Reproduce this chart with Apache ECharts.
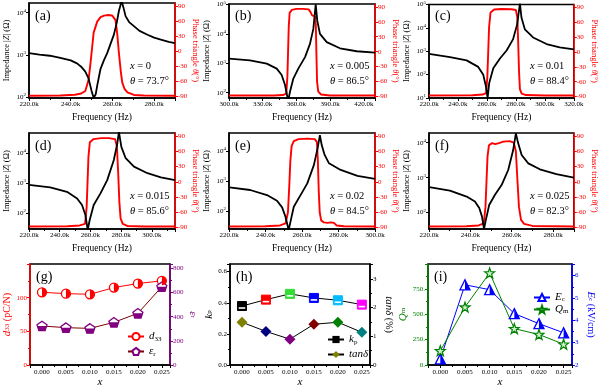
<!DOCTYPE html>
<html><head><meta charset="utf-8">
<script src="https://cdn.jsdelivr.net/npm/echarts@6/dist/echarts.min.js"></script>
<style>html,body{margin:0;padding:0;background:#fff}#c{width:600px;height:391px}</style>
</head><body><div id="c"></div>
<script>
const FONT = '"Liberation Serif", "Times New Roman", serif';

// ---------- impedance |Z| (ohm) vs frequency (kHz) ----------
const impA = [[220,1100],[225,1020],[230,955],[235,850],[240,740],[243,630],[245,525],[247,400],[248.5,280],[250,140],[251,96],[252,117],[252.7,186],[254.3,468],[256,760],[257.5,1100],[259,1780],[260.7,3020],[262,5600],[263.1,11000],[264.4,19000],[265.3,13200],[266.3,8300],[268,6000],[270.3,4800],[273,3700],[276.8,3000],[280,2570],[283.2,2290],[287,2040],[290,1900]];
const impB = [[300,1445],[318.7,1259],[333.6,977],[342.5,661],[346.9,398],[349.9,182],[351.9,74],[352.8,56],[354.3,107],[357.3,302],[361.7,661],[367.7,1622],[372.1,4571],[375.1,14791],[377.2,102000],[378.6,28184],[381,10000],[387,5248],[398.8,3236],[413.7,2570],[430,2291]];
const impC = [[220,776],[234.5,562],[246,407],[254,214],[257.5,98],[259.3,32],[260.5,10],[261.6,44],[264.4,186],[269,490],[273.6,1072],[278.1,3311],[280.9,14125],[282.8,112000],[283.9,26915],[286.2,8710],[291.9,3890],[301.2,2042],[310.3,1479],[320,1202]];
const impD = [[220,851],[233.8,708],[244.7,501],[251.3,302],[254.5,182],[256.7,85],[258.2,27],[259.5,58],[262.1,182],[266.5,447],[270.9,1230],[275.2,5754],[277.5,20893],[278.5,50000],[280.1,15849],[282.9,6607],[288.3,3467],[297.1,2089],[305.8,1514],[315,1230]];
const impE = [[220.2,617],[231.6,501],[240.8,339],[246.3,219],[249.1,132],[250.9,65],[252.7,23],[253.7,44],[255.5,138],[259.2,339],[262.9,832],[266.5,3388],[268.7,13804],[269.8,33884],[270.8,15849],[272.4,7413],[274.8,3890],[281.2,2344],[290.4,1479],[300,1175]];
const impF = [[220.1,537],[230.1,427],[238.2,288],[242.2,209],[244.3,135],[245.6,78],[246.6,34],[247.5,62],[249.1,166],[251.9,324],[255.1,617],[258.3,1660],[260.7,6166],[262,18621],[263.1,9772],[264.8,4467],[268,2570],[273.6,1738],[281.6,1259],[290,1000]];

// ---------- phase angle (deg) vs frequency (kHz) ----------
const phA = [[220,-88.5],[235,-88],[242,-86.5],[245,-84],[247,-79],[248.6,-56],[249.5,-23],[250.3,9],[251,37],[252.7,59],[254.3,68],[256,71],[257.5,72],[259.9,71],[261.5,62],[262.3,35],[263.1,-3],[264,-40],[264.7,-62],[265.8,-75],[267.2,-82],[270.3,-87],[275,-88],[290,-88.5]];
const phB = [[300,-88],[340,-88],[348,-87],[351,-84],[352,-50],[352.6,0],[353.2,50],[354,78],[356,84],[360,86],[366,86],[371,85],[372.5,80],[374,73],[376.5,71],[377.3,55],[377.8,0],[378.4,-60],[379.5,-80],[382,-86],[390,-88],[430,-88]];
const phC = [[220,-88],[250,-87.5],[257,-86],[259.5,-83],[260.3,-50],[260.9,0],[261.5,50],[262.5,80],[265,86],[270,87],[277,86.5],[280,85],[281,70],[281.6,20],[282.2,-40],[282.8,-75],[284,-84],[287,-87],[300,-88],[320,-88]];
const phD = [[220,-88],[245,-87.5],[253,-86],[256.5,-83],[257.5,-50],[258.1,0],[258.7,50],[259.6,78],[262,84],[267,86],[272,86],[276,84],[277.2,70],[278,20],[278.8,-40],[279.6,-72],[281,-83],[284,-87],[295,-88],[315,-88]];
const phE = [[220,-88],[240,-87.5],[248,-86],[251,-82],[252.3,-60],[253,-10],[253.6,40],[254.3,70],[255.5,80],[258,84],[263,85],[267,84],[268.2,78],[268.7,40],[269.2,-20],[269.7,-60],[270.5,-76],[272,-80],[274,-81],[275.8,-80],[276.6,-77],[277.5,-81],[279,-86],[283,-87.5],[300,-88]];
const phF = [[220,-88],[238,-87.5],[244,-86],[246.5,-82],[247.3,-50],[247.8,0],[248.3,50],[249,72],[250.5,76],[252,74],[252.8,72],[253.8,76],[256,79],[259,80],[261,77],[262,60],[262.8,0],[263.5,-50],[264.5,-75],[266,-83],[270,-87],[290,-88]];

// ---------- composition dependent properties ----------
const xComp = [0, 0.005, 0.010, 0.015, 0.020, 0.025];
const d33 = [108, 106, 105, 115, 121, 125];
const epsR = [323, 309, 303, 353, 428, 648];
const kp = [0.379, 0.420, 0.457, 0.431, 0.416, 0.388];
const tanD = [1.49, 1.17, 0.90, 1.42, 1.49, 1.14];
const Qm = [140, 570, 906, 358, 300, 205];
const Ec = [2.27, 5.59, 5.37, 4.30, 3.85, 3.44];

const panelLabels = ['(a)','(b)','(c)','(d)','(e)','(f)','(g)','(h)','(i)'];
const compText = ['0','0.005','0.01','0.015','0.02','0.025'];
const thetaText = ['73.7°','86.5°','88.4°','85.6°','84.5°','82.3°'];

// ---------- styles / layout ----------
const kpColors = ['#000000','#ff0000','#33dd33','#0000ff','#00bbff','#ff00ff'];
const tanColors = ['#808000','#000080','#800080','#800000','#008000','#008080'];
const topLayout = [[29,3,146,95],[229,3,146,95],[429,3,145,95],[29,133,146,96],[229,133,146,96],[429,133,145,96]];
const topAxes = [
  {fmin:220,fmax:290,fstep:20,zmin:95,zmax:17000,showZEnds:false,showFMax:false},
  {fmin:300,fmax:430,fstep:30,zmin:66,zmax:105000,showZEnds:false,showFMax:false},
  {fmin:220,fmax:320,fstep:20,zmin:10,zmax:100000,showZEnds:true,showFMax:true},
  {fmin:220,fmax:315,fstep:20,zmin:29,zmax:45700,showZEnds:false,showFMax:false},
  {fmin:220,fmax:300,fstep:20,zmin:25,zmax:40000,showZEnds:false,showFMax:true},
  {fmin:220,fmax:290,fstep:20,zmin:34,zmax:19000,showZEnds:false,showFMax:false}
];
const impData = [impA, impB, impC, impD, impE, impF];
const phData = [phA, phB, phC, phD, phE, phF];

const grids = [], xAxes = [], yAxes = [], series = [], graphics = [], legends = [];

function axisStyle(color){
  return {
    axisLine:{show:true, onZero:false, lineStyle:{color:color, width:1.5}},
    axisTick:{show:true, length:3, lineStyle:{color:color, width:1}},
    splitLine:{show:false}
  };
}

topLayout.forEach((L, i) => {
  const [l, t, w, h] = L;
  const a = topAxes[i];
  grids.push({left:l, top:t, width:w, height:h, show:true, borderColor:'#000', borderWidth:1.5});
  xAxes.push(Object.assign(axisStyle('#000'), {
    gridIndex:i, type:'value', min:a.fmin, max:a.fmax, interval:a.fstep,
    name:'Frequency (Hz)', nameLocation:'middle', nameGap:14,
    nameTextStyle:{fontFamily:FONT, fontSize:9.5, color:'#000'},
    minorTick:{show:true, splitNumber:2, length:2, lineStyle:{color:'#000'}},
    axisLabel:{fontFamily:FONT, fontSize:7, color:'#000', margin:3, showMaxLabel:a.showFMax,
      formatter:v => v.toFixed(1) + 'k'}
  }));
  yAxes.push(Object.assign(axisStyle('#000'), {
    gridIndex:i, type:'log', logBase:10, min:a.zmin, max:a.zmax, position:'left',
    name:'Impedance |{i|Z}| (Ω)', nameLocation:'middle', nameGap:18,
    nameTextStyle:{fontFamily:FONT, fontSize:8.5, color:'#000', rich:{i:{fontStyle:'italic', fontFamily:FONT, fontSize:8.5}}},
    axisLabel:{color:'#000', margin:3, showMinLabel:a.showZEnds, showMaxLabel:a.showZEnds,
      formatter:v => '{n|10}{e|' + Math.round(Math.log10(v)) + '}',
      rich:{n:{fontFamily:FONT, fontSize:7, lineHeight:9}, e:{fontFamily:FONT, fontSize:5, lineHeight:5, verticalAlign:'top'}}}
  }));
  yAxes.push(Object.assign(axisStyle('#ff0000'), {
    gridIndex:i, type:'value', min:-93, max:96, splitNumber:6, position:'right',
    name:'Phase triangle {i|θ}(°)', nameLocation:'middle', nameGap:13, nameRotate:-90,
    nameTextStyle:{fontFamily:FONT, fontSize:8.5, color:'#ff0000', rich:{i:{fontStyle:'italic', fontFamily:FONT, fontSize:8.5, color:'#ff0000'}}},
    axisLabel:{fontFamily:FONT, fontSize:7, color:'#ff0000', margin:3, showMinLabel:false, showMaxLabel:false}
  }));
  series.push({type:'line', xAxisIndex:i, yAxisIndex:2*i, data:impData[i], showSymbol:false, silent:true,
    lineStyle:{color:'#000', width:1.8}, itemStyle:{color:'#000'}, z:3});
  series.push({type:'line', xAxisIndex:i, yAxisIndex:2*i+1, data:phData[i], showSymbol:false, silent:true,
    lineStyle:{color:'#ff0000', width:1.9}, itemStyle:{color:'#ff0000'}, z:2});
  graphics.push({type:'text', left:l+6, top:t+6, z:10, style:{text:panelLabels[i], fontFamily:FONT, fontSize:14, fill:'#000'}});
  graphics.push({type:'text', left:l+101, top:t+58, z:10, style:{text:'{i|x} = ' + compText[i], fontFamily:FONT, fontSize:10.5, fill:'#000',
    rich:{i:{fontStyle:'italic', fontFamily:FONT, fontSize:10.5}}}});
  graphics.push({type:'text', left:l+101, top:t+73, z:10, style:{text:'{i|θ} = ' + thetaText[i], fontFamily:FONT, fontSize:10.5, fill:'#000',
    rich:{i:{fontStyle:'italic', fontFamily:FONT, fontSize:10.5}}}});
});

// ---------- bottom row ----------
const botLayout = [[30,264,140,101],[230,264,140,101],[428,264,144,101]];
const botY = [
  [{min:0,max:150,interval:50,color:'#ff0000',name:'{i|d}{s|33} (pC/N)',gap:17,rot:90,fmt:v=>String(v)},
   {min:0,max:836,interval:200,color:'#800080',name:'{i|ε}{s|r}',gap:15,rot:-90,fmt:v=>String(v)}],
  [{min:0,max:0.649,interval:0.2,color:'#000',name:'{i|k}{s|p}',gap:12,rot:90,fmt:v=>v.toFixed(1)},
   {min:0,max:3.52,interval:1,color:'#000',name:'{i|tanδ} (%)',gap:13,rot:-90,fmt:v=>String(v)}],
  [{min:0,max:994,interval:250,color:'#008000',name:'{i|Q}{s|m}',gap:18,rot:90,fmt:v=>v + '.'},
   {min:2,max:6.52,interval:1,color:'#0000ff',name:'{i|E}{s|c} (kV/cm)',gap:13,rot:-90,fmt:v=>String(v)}]
];
botLayout.forEach((L, k) => {
  const gi = 6 + k;
  const [l, t, w, h] = L;
  grids.push({left:l, top:t, width:w, height:h, show:true, borderColor:'#000', borderWidth:1.5});
  xAxes.push(Object.assign(axisStyle('#000'), {
    gridIndex:gi, type:'value', min:-0.0025, max:0.0267, splitNumber:6,
    name:'x', nameLocation:'middle', nameGap:12,
    nameTextStyle:{fontFamily:FONT, fontSize:11, fontStyle:'italic', color:'#000'},
    minorTick:{show:true, splitNumber:2, length:2, lineStyle:{color:'#000'}},
    axisLabel:{fontFamily:FONT, fontSize:7, color:'#000', margin:4, showMinLabel:false, showMaxLabel:false,
      formatter:v => v.toFixed(3)}
  }));
  botY[k].forEach((y, j) => {
    yAxes.push(Object.assign(axisStyle(y.color), {
      gridIndex:gi, type:'value', min:y.min, max:y.max, interval:y.interval, position:j ? 'right' : 'left',
      name:y.name, nameLocation:'middle', nameGap:y.gap, nameRotate:y.rot,
      nameTextStyle:{fontFamily:FONT, fontSize:10, color:y.color,
        rich:{i:{fontStyle:'italic', fontFamily:FONT, fontSize:11, color:y.color},
              s:{fontSize:7, fontFamily:FONT, color:y.color}}},
      minorTick:{show:true, splitNumber:2, length:2, lineStyle:{color:y.color}},
      axisLabel:{fontFamily:FONT, fontSize:7, color:y.color, margin:3, showMaxLabel:false, formatter:y.fmt}
    }));
  });
  graphics.push({type:'text', left:l+6, top:t+6, z:10, style:{text:panelLabels[gi], fontFamily:FONT, fontSize:14, fill:'#000'}});
});

const pair = arr => arr.map((v, i) => [xComp[i], v]);
const PENT = 'path://M10,0L20,7.27L16.18,19.02L3.82,19.02L0,7.27Z';
const PENT_LOW = 'path://M0.73,9.51L19.27,9.51L16.18,19.02L3.82,19.02Z';
const HALF_CIRCLE_R = 'path://M0,0A10,10 0 0,1 0,20Z';
const HALF_TRI_R = 'path://M0,0L10,20L0,20Z';
const STAR = 'path://M10,0L12.35,6.76L19.51,6.91L13.8,11.24L15.88,18.09L10,14L4.12,18.09L6.2,11.24L0.49,6.91L7.65,6.76Z';

function yi(gi, j){ return 2*gi + j; }
// (g)
series.push({name:'d33', type:'line', xAxisIndex:6, yAxisIndex:yi(6,0), data:pair(d33), symbol:'circle', symbolSize:9,
  lineStyle:{color:'#ff0000', width:1}, itemStyle:{color:'#fff', borderColor:'#ff0000', borderWidth:1.3}, z:3});
series.push({name:'_d33f', type:'line', xAxisIndex:6, yAxisIndex:yi(6,0), data:pair(d33), symbol:HALF_CIRCLE_R, symbolSize:[4.5,9], symbolOffset:[2.25,0],
  lineStyle:{width:0, opacity:0}, itemStyle:{color:'#ff0000'}, z:4, silent:true});
series.push({name:'epsR', type:'line', xAxisIndex:6, yAxisIndex:yi(6,1), data:pair(epsR), symbol:PENT, symbolSize:[10,9.5],
  lineStyle:{color:'#800000', width:1}, itemStyle:{color:'#fff', borderColor:'#800080', borderWidth:1.3}, z:3});
series.push({name:'_epsf', type:'line', xAxisIndex:6, yAxisIndex:yi(6,1), data:pair(epsR), symbol:PENT_LOW, symbolSize:[9.27,4.75], symbolOffset:[0,2.375],
  lineStyle:{width:0, opacity:0}, itemStyle:{color:'#800080'}, z:4, silent:true});
// (h)
series.push({name:'kp', type:'line', xAxisIndex:7, yAxisIndex:yi(7,0), symbol:'rect', symbolSize:9,
  data:kp.map((v,i) => ({value:[xComp[i], v], itemStyle:{color:kpColors[i], borderColor:kpColors[i]}})),
  lineStyle:{color:'#000', width:1}, itemStyle:{color:'#000', borderColor:'#000'}, z:3});
series.push({name:'_kpf', type:'line', xAxisIndex:7, yAxisIndex:yi(7,0), data:pair(kp), symbol:'rect', symbolSize:[6.5,1.6], symbolOffset:[0,2],
  lineStyle:{width:0, opacity:0}, itemStyle:{color:'#fff'}, z:4, silent:true});
series.push({name:'tanD', type:'line', xAxisIndex:7, yAxisIndex:yi(7,1), symbol:'diamond', symbolSize:11,
  data:tanD.map((v,i) => ({value:[xComp[i], v], itemStyle:{color:tanColors[i]}})),
  lineStyle:{color:'#000', width:1}, itemStyle:{color:'#808000'}, z:3});
// (i)
series.push({name:'Ec', type:'line', xAxisIndex:8, yAxisIndex:yi(8,1), data:pair(Ec), symbol:'triangle', symbolSize:10,
  lineStyle:{color:'#0000ff', width:1}, itemStyle:{color:'#fff', borderColor:'#0000ff', borderWidth:1.3}, z:3});
series.push({name:'_ecf', type:'line', xAxisIndex:8, yAxisIndex:yi(8,1), data:pair(Ec), symbol:HALF_TRI_R, symbolSize:[5,10], symbolOffset:[2.5,0],
  lineStyle:{width:0, opacity:0}, itemStyle:{color:'#0000ff'}, z:4, silent:true});
series.push({name:'Qm', type:'line', xAxisIndex:8, yAxisIndex:yi(8,0), data:pair(Qm), symbol:STAR, symbolSize:10,
  lineStyle:{color:'#008000', width:1}, itemStyle:{color:'#c8f0c8', borderColor:'#008000', borderWidth:1.2}, z:3});

const legendNames = {d33:'{i|d}{s|33}', epsR:'{i|ε}{s|r}', kp:'{i|k}{s|p}', tanD:'{i|tanδ}', Ec:'{i|E}{s|c}', Qm:'{i|Q}{s|m}'};
function mkLegend(data, left, top, gap, lh){
  return {data:data, left:left, top:top, orient:'vertical', itemGap:gap, itemWidth:16, itemHeight:9, padding:0,
    selectedMode:false, formatter:n => legendNames[n],
    textStyle:{fontFamily:FONT, fontSize:10, color:'#000',
      rich:{i:{fontStyle:'italic', fontFamily:FONT, fontSize:11, lineHeight:lh}, s:{fontFamily:FONT, fontSize:7, lineHeight:7, verticalAlign:'bottom'}}}};
}
legends.push(mkLegend(['d33','epsR'], 127, 331, 3, 13));
legends.push(mkLegend(['kp','tanD'], 327, 334, 3, 13));
legends.push(mkLegend(['Ec','Qm'], 533, 292, 1, 11));

const chart = echarts.init(document.getElementById('c'), null, {renderer:'canvas'});
chart.setOption({
  animation:false,
  backgroundColor:'#fff',
  grid:grids, xAxis:xAxes, yAxis:yAxes, series:series, legend:legends, graphic:graphics
});
</script></body></html>
